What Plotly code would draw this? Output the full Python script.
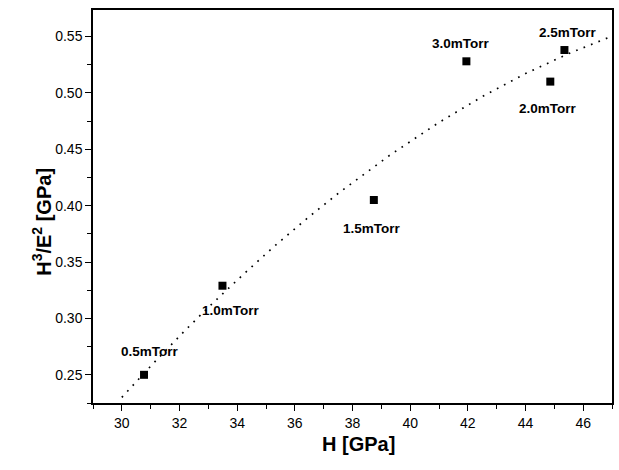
import plotly.graph_objects as go

# Measured points (H [GPa], H^3/E^2 [GPa])
pressure_labels = ["0.5mTorr", "1.0mTorr", "1.5mTorr", "2.0mTorr", "2.5mTorr", "3.0mTorr"]
hardness = [30.77, 33.49, 38.74, 44.86, 45.35, 41.95]
h3e2 = [0.250, 0.329, 0.405, 0.510, 0.538, 0.528]
# label offsets in px
label_yshift = [23, -25, -28, -27, 18, 18]
label_xshift = [6, 9, -2, -2, 4, -5]

# Dotted fit curve
fit_x = [30.0, 31.0, 32.2, 33.0, 34.17, 35.28, 36.5, 37.55, 39.28, 40.98, 42.5, 44.0, 45.5, 46.66, 47.0]
fit_y = [0.2300, 0.2577, 0.2895, 0.3098, 0.3380, 0.3638, 0.3903, 0.4118, 0.4445, 0.4735,
         0.4967, 0.5171, 0.5349, 0.5470, 0.5503]

x_ticks = [30, 32, 34, 36, 38, 40, 42, 44, 46]
y_ticks = [0.25, 0.30, 0.35, 0.40, 0.45, 0.50, 0.55]

font_family = "Liberation Sans, Arial, sans-serif"

fig = go.Figure()
fig.add_trace(go.Scatter(
    x=fit_x, y=fit_y, mode="lines",
    line=dict(color="black", width=1.7, dash="1.7px,6.3px"),
    hoverinfo="skip", showlegend=False))
fig.add_trace(go.Scatter(
    x=hardness, y=h3e2, mode="markers",
    marker=dict(symbol="square", size=8, color="black"),
    showlegend=False))

for lab, xv, yv, ys, xs in zip(pressure_labels, hardness, h3e2, label_yshift, label_xshift):
    fig.add_annotation(x=xv, y=yv, text=f"<b>{lab}</b>", showarrow=False,
                       xshift=xs, yshift=ys,
                       font=dict(family=font_family, size=13.5, color="black"))

fig.add_annotation(xref="paper", yref="paper", x=0.512, y=-0.138,
                   text="<b>H [GPa]</b>", showarrow=False,
                   font=dict(family=font_family, size=20, color="black"))
fig.add_annotation(xref="paper", yref="paper", x=-0.127, y=0.46,
                   text="<b>H<sup>3</sup>/E<sup>2</sup> [GPa]</b>", showarrow=False,
                   textangle=-90,
                   font=dict(family=font_family, size=20, color="black"))

axis_common = dict(
    showline=True, linecolor="black", linewidth=1.5, mirror=True,
    ticks="outside", ticklen=6, tickwidth=1.2, tickcolor="black",
    showgrid=False, zeroline=False,
    tickfont=dict(family=font_family, size=14, color="black"),
)

fig.update_xaxes(range=[29, 47], tickvals=x_ticks,
                 minor=dict(ticks="outside", ticklen=4, tickwidth=1, tickcolor="black", dtick=1, tick0=29),
                 **axis_common)
fig.update_yaxes(range=[0.225, 0.5735], tickvals=y_ticks, tickformat=".2f",
                 minor=dict(ticks="outside", ticklen=4, tickwidth=1, tickcolor="black", dtick=0.025, tick0=0.225),
                 **axis_common)

fig.update_layout(
    width=619, height=470,
    margin=dict(l=93, r=5, t=10, b=67),
    plot_bgcolor="white", paper_bgcolor="white",
    font=dict(family=font_family, color="black"),
)

fig.write_html("out.html")
